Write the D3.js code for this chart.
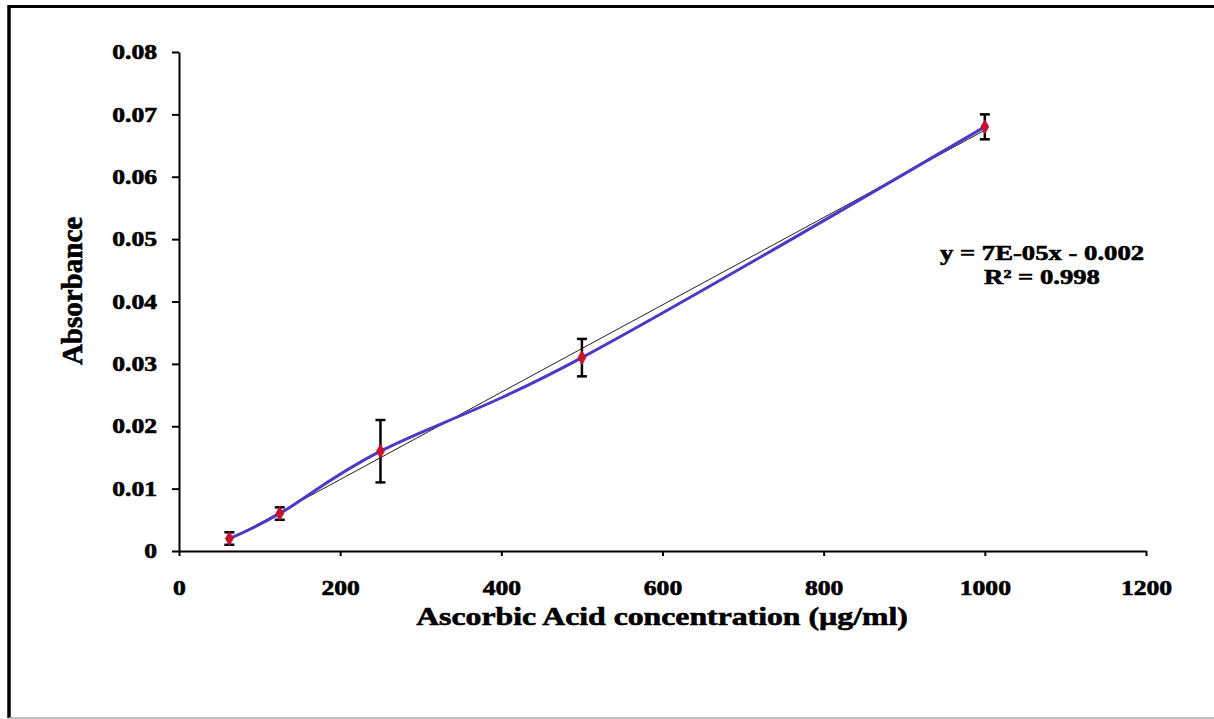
<!DOCTYPE html>
<html lang="en">
<head>
<meta charset="UTF-8">
<title>Ascorbic Acid standard curve</title>
<script src="https://d3js.org/d3.v7.min.js"></script>
<style>
html,body{margin:0;padding:0;background:#fff}
svg{display:block}
text{font-family:"Liberation Serif","Times New Roman",serif;font-weight:bold;fill:#000;stroke:#000;stroke-width:0.6px}
</style>
</head>
<body>
<svg id="chart" width="1214" height="719"></svg>
<script>
// data
var concentrations = [62.5, 125, 250, 500, 1000];
var absorbance = [0.002, 0.006, 0.016, 0.031, 0.068];
var errors = [0.001, 0.001, 0.005, 0.003, 0.002];
var xTicks = [0, 200, 400, 600, 800, 1000, 1200];
var yTicks = [0, 0.01, 0.02, 0.03, 0.04, 0.05, 0.06, 0.07, 0.08];
var trendSlope = 7.0e-5;
var trendIntercept = -0.00254;
var equationLines = ['y = 7E-05x - 0.002', 'R\u00b2 = 0.998'];

var svg = d3.select('#chart');
var tickStretch = 1.22; // labels in the picture are a bit wide
var textStretch = 1.27;

// frame round the chart
svg.append('line').attr('x1', 9).attr('x2', 1214).attr('y1', 6.5).attr('y2', 6.5)
  .attr('stroke', '#000').attr('stroke-width', 3);
svg.append('line').attr('x1', 9).attr('x2', 9).attr('y1', 5).attr('y2', 718)
  .attr('stroke', '#000').attr('stroke-width', 3.5);
svg.append('line').attr('x1', 9).attr('x2', 1214).attr('y1', 718).attr('y2', 718)
  .attr('stroke', '#aaa').attr('stroke-width', 1.5);

var x = d3.scaleLinear().domain([0, 1200]).range([179, 1146]);
var y = d3.scaleLinear().domain([0, 0.08]).range([551, 52]);

// axes
var gx = svg.append('g').attr('transform', 'translate(0,551)')
  .call(d3.axisBottom(x).tickValues(xTicks).tickSizeInner(5).tickSizeOuter(0).tickPadding(24)
    .tickFormat(d3.format('d')));
var gy = svg.append('g').attr('transform', 'translate(179,0)')
  .call(d3.axisLeft(y).tickValues(yTicks).tickSizeInner(7).tickSizeOuter(0).tickPadding(11)
    .tickFormat(function(d) { return d === 0 ? '0' : d3.format('.2f')(d); }));

[gx, gy].forEach(function(g) {
  g.select('.domain').attr('stroke', '#000').attr('stroke-width', 2);
  g.selectAll('.tick line').attr('stroke', '#000').attr('stroke-width', 2);
  g.selectAll('.tick text').attr('font-size', 21).attr('fill', '#000')
    .attr('font-family', '"Liberation Serif","Times New Roman",serif').attr('font-weight', 'bold')
    .attr('transform', 'scale(' + tickStretch + ',1)');
});

// axis titles
svg.append('text').attr('transform', 'translate(82,291) rotate(-90)')
  .attr('text-anchor', 'middle').attr('font-size', 29).text('Absorbance');
svg.append('text').attr('transform', 'translate(662,625) scale(' + textStretch + ',1)')
  .attr('text-anchor', 'middle').attr('font-size', 25)
  .text('Ascorbic Acid concentration (\u00b5g/ml)');

// linear trendline over data range
var xr = d3.extent(concentrations);
svg.append('path')
  .datum(xr.map(function(c) { return [c, trendSlope * c + trendIntercept]; }))
  .attr('fill', 'none').attr('stroke', '#222').attr('stroke-width', 1)
  .attr('d', d3.line().x(function(d) { return x(d[0]); }).y(function(d) { return y(d[1]); }));

var pts = concentrations.map(function(c, i) { return { c: c, a: absorbance[i], e: errors[i] }; });

// smoothed series line
svg.append('path').datum(pts)
  .attr('fill', 'none').attr('stroke', '#5038c4').attr('stroke-width', 3)
  .attr('d', d3.line().curve(d3.curveCardinal.tension(0))
    .x(function(d) { return x(d.c); }).y(function(d) { return y(d.a); }));

// error bars
var eb = svg.append('g').attr('stroke', '#000').attr('stroke-width', 2.5);
eb.selectAll('line.v').data(pts).join('line').attr('class', 'v')
  .attr('x1', function(d) { return x(d.c); }).attr('x2', function(d) { return x(d.c); })
  .attr('y1', function(d) { return y(d.a - d.e); }).attr('y2', function(d) { return y(d.a + d.e); });
eb.selectAll('line.top').data(pts).join('line').attr('class', 'top')
  .attr('x1', function(d) { return x(d.c) - 5; }).attr('x2', function(d) { return x(d.c) + 5; })
  .attr('y1', function(d) { return y(d.a + d.e); }).attr('y2', function(d) { return y(d.a + d.e); });
eb.selectAll('line.bot').data(pts).join('line').attr('class', 'bot')
  .attr('x1', function(d) { return x(d.c) - 5; }).attr('x2', function(d) { return x(d.c) + 5; })
  .attr('y1', function(d) { return y(d.a - d.e); }).attr('y2', function(d) { return y(d.a - d.e); });

// diamond markers
svg.selectAll('path.mk').data(pts).join('path').attr('class', 'mk')
  .attr('d', d3.symbol().type(d3.symbolDiamond).size(60))
  .attr('transform', function(d) { return 'translate(' + x(d.c) + ',' + y(d.a) + ')'; })
  .attr('fill', '#c41230').attr('stroke', '#c41230').attr('stroke-width', 0.5);

// equation label
svg.selectAll('text.eq').data(equationLines).join('text').attr('class', 'eq')
  .attr('transform', function(d, i) { return 'translate(1042,' + (260 + i * 24) + ') scale(' + textStretch + ',1)'; })
  .attr('text-anchor', 'middle').attr('font-size', 21).text(function(d) { return d; });
</script>
</body>
</html>
